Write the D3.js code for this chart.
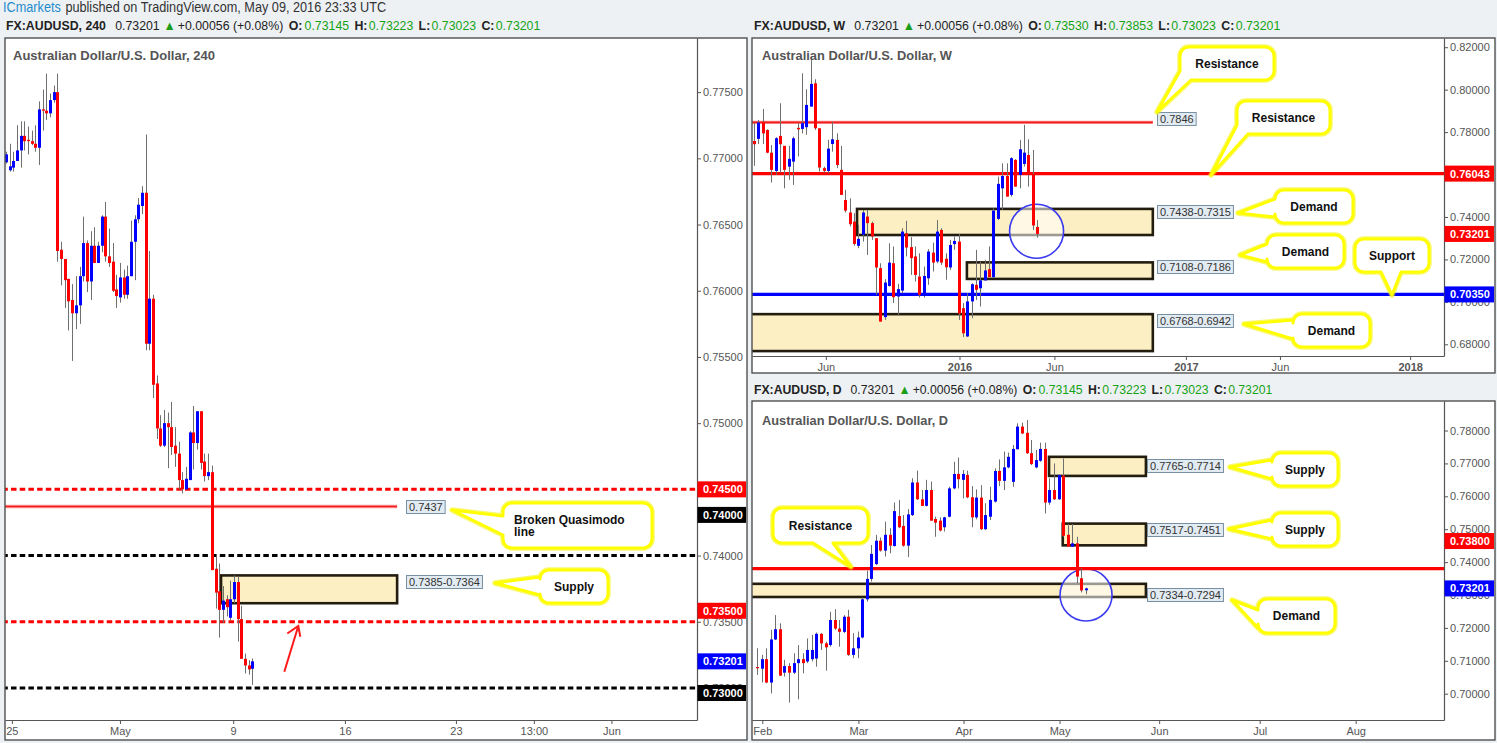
<!DOCTYPE html>
<html><head><meta charset="utf-8">
<script src="https://cdnjs.cloudflare.com/ajax/libs/d3/7.8.5/d3.min.js"></script>
<style>
html,body{margin:0;padding:0;background:#eef1f4;overflow:hidden;}
svg{display:block;}
text{font-family:"Liberation Sans",Arial,sans-serif;white-space:pre;}
</style></head><body>
<svg id="chart" width="1497" height="743"></svg>
<script>
// ================= DATA =================
// 240-minute candles (AUDUSD), Apr 25 - May 9 2016
const h4Open  = [0.7697,0.7691,0.7693,0.7698,0.7706,0.7717,0.7714,0.7713,0.7711,0.7708,0.7737,0.7736,0.7734,0.7744,0.7750,0.7631,0.7624,0.7609,0.7593,0.7583,0.7589,0.7611,0.7636,0.7607,0.7634,0.7621,0.7634,0.7656,0.7626,0.7622,0.7601,0.7595,0.7610,0.7597,0.7611,0.7637,0.7654,0.7664,0.7674,0.7560,0.7594,0.7530,0.7496,0.7483,0.7500,0.7497,0.7483,0.7477,0.7457,0.7450,0.7457,0.7493,0.7485,0.7509,0.7471,0.7460,0.7463,0.7390,0.7373,0.7359,0.7367,0.7353,0.7367,0.7380,0.7352,0.7322,0.7317,0.73145];
const h4High  = [0.7705,0.7711,0.7705,0.7725,0.7728,0.7728,0.7724,0.7721,0.7725,0.7743,0.7752,0.7764,0.7749,0.7755,0.7764,0.7637,0.7624,0.7609,0.7605,0.7611,0.7618,0.7656,0.7638,0.7645,0.7648,0.7637,0.7657,0.7667,0.7647,0.7636,0.7612,0.7621,0.7616,0.7619,0.7653,0.7657,0.7670,0.7679,0.7718,0.7630,0.7597,0.7536,0.7506,0.7510,0.7508,0.7516,0.7497,0.7486,0.7463,0.7467,0.7494,0.7513,0.7509,0.7509,0.7477,0.7477,0.7468,0.7399,0.7394,0.7377,0.7370,0.7381,0.7385,0.7384,0.7362,0.7326,0.7321,0.73223];
const h4Low   = [0.7696,0.7690,0.7690,0.7698,0.7693,0.7706,0.7703,0.7710,0.7705,0.7695,0.7721,0.7729,0.7731,0.7742,0.7622,0.7604,0.7587,0.7570,0.7547,0.7571,0.7575,0.7607,0.7599,0.7593,0.7621,0.7621,0.7629,0.7622,0.7618,0.7599,0.7587,0.7591,0.7594,0.7594,0.7611,0.7608,0.7651,0.7658,0.7555,0.7555,0.7519,0.7488,0.7482,0.7482,0.7466,0.7476,0.7467,0.7450,0.7447,0.7450,0.7457,0.7465,0.7480,0.7465,0.7456,0.7457,0.7389,0.7360,0.7338,0.7349,0.7354,0.7351,0.7364,0.7335,0.7322,0.7311,0.7310,0.73023];
const h4Close = [0.7703,0.7694,0.7698,0.7706,0.7717,0.7713,0.7713,0.7711,0.7708,0.7737,0.7736,0.7734,0.7744,0.7750,0.7630,0.7624,0.7608,0.7592,0.7583,0.7589,0.7611,0.7636,0.7607,0.7634,0.7621,0.7634,0.7656,0.7626,0.7621,0.7600,0.7596,0.7610,0.7597,0.7611,0.7637,0.7654,0.7665,0.7674,0.7560,0.7594,0.7529,0.7496,0.7483,0.7500,0.7497,0.7482,0.7477,0.7457,0.7450,0.7458,0.7493,0.7485,0.7509,0.7470,0.7460,0.7463,0.7389,0.7372,0.7359,0.7366,0.7361,0.7367,0.7380,0.7352,0.7322,0.7317,0.7314,0.73201];
const h4PriceTicks = [0.775,0.770,0.765,0.760,0.755,0.750,0.745,0.740,0.735,0.730];
const h4TimeLabels = ["25","May","9","16","23","13:00","Jun"];
const h4TimeIndex  = [1.6,31,61.8,92.2,122.4,143.6,164.7];

// Weekly candles, Feb 2015 - May 2016
const wkOpen  = [0.7758,0.7768,0.7848,0.7810,0.7703,0.7617,0.7782,0.7735,0.7637,0.7661,0.7820,0.7815,0.7823,0.7920,0.8030,0.7818,0.7630,0.7617,0.7744,0.7763,0.7622,0.7480,0.7421,0.7378,0.7264,0.7316,0.7402,0.7371,0.7300,0.7159,0.6928,0.7075,0.7182,0.7025,0.7053,0.7323,0.7258,0.7214,0.7119,0.7028,0.7111,0.7232,0.7190,0.7339,0.7203,0.7162,0.7272,0.7284,0.6970,0.6837,0.7002,0.7080,0.7064,0.7101,0.7154,0.7116,0.7391,0.7535,0.7593,0.7504,0.7669,0.7598,0.7650,0.7692,0.7601,0.7353];
const wkHigh  = [0.7842,0.7857,0.7909,0.7813,0.7739,0.7776,0.7936,0.7735,0.7735,0.7779,0.7842,0.8077,0.8002,0.8156,0.8049,0.7818,0.7637,0.7763,0.7849,0.7794,0.7735,0.7528,0.7488,0.7418,0.7363,0.7433,0.7433,0.7378,0.7300,0.7182,0.7107,0.7276,0.7261,0.7085,0.7347,0.7382,0.7305,0.7261,0.7229,0.7166,0.7248,0.7279,0.7386,0.7347,0.7229,0.7292,0.7308,0.7319,0.6994,0.7041,0.7088,0.7245,0.7190,0.7198,0.7261,0.7441,0.7590,0.7653,0.7653,0.7681,0.7672,0.7763,0.7834,0.7766,0.7716,0.73853];
const wkLow   = [0.7641,0.7744,0.7744,0.7700,0.7562,0.7598,0.7609,0.7535,0.7575,0.7551,0.7685,0.7794,0.7787,0.7920,0.7810,0.7614,0.7609,0.7606,0.7708,0.7630,0.7504,0.7421,0.7355,0.7265,0.7253,0.7284,0.7221,0.7292,0.7033,0.6907,0.6915,0.7072,0.6994,0.6939,0.7041,0.7214,0.7127,0.7096,0.7020,0.7020,0.7080,0.7143,0.7182,0.7174,0.7104,0.7151,0.7245,0.6915,0.6834,0.6834,0.6923,0.7009,0.6978,0.7101,0.7116,0.7111,0.7386,0.7433,0.7496,0.7496,0.7543,0.7535,0.7637,0.7543,0.7339,0.73023];
const wkClose = [0.7743,0.7845,0.7794,0.7703,0.7622,0.7771,0.7743,0.7622,0.7674,0.7771,0.7813,0.7842,0.7928,0.8027,0.7818,0.7633,0.7617,0.7722,0.7766,0.7645,0.7504,0.7430,0.7366,0.7273,0.7297,0.7421,0.7371,0.7308,0.7162,0.6907,0.7091,0.7185,0.7022,0.7060,0.7331,0.7256,0.7206,0.7127,0.7033,0.7122,0.7237,0.7185,0.7331,0.7185,0.7163,0.7268,0.7287,0.6944,0.6852,0.7002,0.7083,0.7057,0.7101,0.7148,0.7116,0.7430,0.7556,0.7593,0.7496,0.7677,0.7543,0.7719,0.7703,0.7598,0.7360,0.73201];
const wkPriceTicks = [0.82,0.80,0.78,0.76,0.74,0.72,0.70,0.68];
const wkTimeLabels = ["Jun","2016","Jun","2017","Jun","2018"];
const wkTimeIndex  = [16.5,47.2,69,99.2,120.8,150.7];

// Daily candles, Jan 29 - May 9 2016
const dOpen  = [0.7081,0.7076,0.7105,0.7034,0.7165,0.7196,0.7064,0.7084,0.7064,0.7093,0.7105,0.7098,0.7105,0.7107,0.7182,0.7153,0.7148,0.7224,0.7198,0.7188,0.7234,0.7118,0.7138,0.7171,0.7287,0.7349,0.7394,0.7465,0.7435,0.7483,0.7449,0.7540,0.7510,0.7450,0.7543,0.7642,0.7591,0.7571,0.7619,0.7531,0.7526,0.7506,0.7538,0.7624,0.7668,0.7650,0.7665,0.7597,0.7536,0.7596,0.7500,0.7538,0.7584,0.7677,0.7647,0.7688,0.7644,0.7743,0.7812,0.7793,0.7731,0.7688,0.7708,0.7744,0.7581,0.7619,0.7591,0.7663,0.7483,0.7447,0.7457,0.7351,0.73145];
const dHigh  = [0.7138,0.7118,0.7138,0.7194,0.7239,0.7214,0.7103,0.7093,0.7123,0.7148,0.7123,0.7168,0.7179,0.7186,0.7184,0.7158,0.7249,0.7257,0.7224,0.7239,0.7255,0.7184,0.7189,0.7292,0.7374,0.7452,0.7483,0.7475,0.7523,0.7503,0.7581,0.7589,0.7543,0.7561,0.7655,0.7678,0.7619,0.7650,0.7645,0.7538,0.7536,0.7538,0.7629,0.7705,0.7718,0.7680,0.7678,0.7631,0.7621,0.7634,0.7579,0.7629,0.7685,0.7712,0.7736,0.7733,0.7756,0.7822,0.7824,0.7832,0.7771,0.7741,0.7763,0.7763,0.7655,0.7700,0.7666,0.7715,0.7516,0.7516,0.7477,0.7381,0.73223];
const dLow   = [0.7057,0.7034,0.7032,0.7001,0.7163,0.7054,0.7052,0.6973,0.7060,0.6983,0.7062,0.7093,0.7098,0.7082,0.7133,0.7070,0.7143,0.7194,0.7143,0.7184,0.7115,0.7108,0.7108,0.7168,0.7280,0.7341,0.7391,0.7432,0.7417,0.7427,0.7447,0.7503,0.7447,0.7415,0.7540,0.7589,0.7571,0.7569,0.7526,0.7477,0.7493,0.7493,0.7536,0.7621,0.7624,0.7594,0.7594,0.7506,0.7530,0.7498,0.7498,0.7528,0.7581,0.7631,0.7619,0.7685,0.7629,0.7743,0.7789,0.7729,0.7695,0.7685,0.7705,0.7548,0.7574,0.7589,0.7589,0.7477,0.7447,0.7447,0.7336,0.7308,0.73023];
const dClose = [0.7080,0.7105,0.7034,0.7165,0.7196,0.7055,0.7084,0.7064,0.7093,0.7105,0.7093,0.7133,0.7133,0.7182,0.7153,0.7141,0.7224,0.7198,0.7188,0.7234,0.7118,0.7138,0.7171,0.7287,0.7349,0.7425,0.7465,0.7435,0.7483,0.7450,0.7555,0.7506,0.7450,0.7545,0.7642,0.7591,0.7571,0.7619,0.7526,0.7520,0.7496,0.7536,0.7624,0.7668,0.7652,0.7668,0.7597,0.7536,0.7596,0.7500,0.7543,0.7589,0.7677,0.7647,0.7688,0.7720,0.7744,0.7812,0.7791,0.7731,0.7698,0.7710,0.7744,0.7581,0.7619,0.7591,0.7665,0.7480,0.7447,0.7457,0.7356,0.7314,0.73201];
const dPriceTicks = [0.78,0.77,0.76,0.75,0.74,0.73,0.72,0.71,0.70];
const dTimeLabels = ["Feb","Mar","Apr","May","Jun","Jul","Aug"];
const dTimeIndex  = [1.16,22.2,45.2,66.2,88,110,131];

// ================= DRAWING =================
const svg = d3.select('#chart');
const fmt5 = d3.format('.5f');
const GREEN = '#15a315', DARK = '#222';

// header line: each segment is its own text element, laid out left to right and scaled to fit a target length
function header(x, y, len, segs, size) {
  const gap = 4;
  const items = segs.map(s => {
    const t = svg.append('text').attr('y', y).attr('font-size', size || 13)
      .attr('fill', s[1]).attr('font-weight', s[2] || 'normal').text(s[0]);
    return { t, w: t.node().getComputedTextLength(), sp: s[3] || 0 };
  });
  const total = d3.sum(items, d => d.w) + d3.sum(items, d => d.sp * gap);
  const k = len / total;
  let cx = x;
  items.forEach(d => {
    cx += d.sp * gap * k;
    d.t.attr('x', cx).attr('textLength', d.w * k * 0.985).attr('lengthAdjust', 'spacingAndGlyphs');
    cx += d.w * k;
  });
}
function quoteSegs(tf, o, h, l, c) {
  return [["FX:AUDUSD, " + tf, DARK, 'bold'], ["0.73201", DARK, 'normal', 2], ["\u25B2", '#1a9e1a', 'normal', 0.8], ["+0.00056 (+0.08%)", DARK, 'normal', 0.5],
    ["O:", DARK, 'bold', 1], [o, GREEN, 'normal', 0.5], ["H:", DARK, 'bold', 1.2], [h, GREEN, 'normal', 0.3], ["L:", DARK, 'bold', 1.2], [l, GREEN, 'normal', 0.3], ["C:", DARK, 'bold', 1.2], [c, GREEN, 'normal', 0.3]];
}
header(3, 12, 388, [["ICmarkets", '#1f8ccb'], ["published on TradingView.com, May 09, 2016 23:33 UTC", '#333', 'normal', 1]], 14);
header(6, 29.5, 535, quoteSegs("240", "0.73145", "0.73223", "0.73023", "0.73201"));
header(754, 29.5, 527, quoteSegs("W", "0.73530", "0.73853", "0.73023", "0.73201"));
header(754, 394, 519, quoteSegs("D", "0.73145", "0.73223", "0.73023", "0.73201"));

function makePanel(cfg) {
  const g = svg.append('g');
  g.append('rect').attr('x', cfg.bx).attr('y', cfg.by).attr('width', cfg.bw).attr('height', cfg.bh).attr('fill', '#fff');
  const x = d3.scaleLinear().domain(cfg.xDomain).range([cfg.bx, cfg.plotR]);
  const y = d3.scaleLinear().domain(cfg.yDomain).range([cfg.plotB, cfg.by]);
  const clipId = 'clip-' + cfg.id;
  svg.append('clipPath').attr('id', clipId).append('rect')
    .attr('x', cfg.bx).attr('y', cfg.by).attr('width', cfg.plotR - cfg.bx).attr('height', cfg.plotB - cfg.by);
  const plot = g.append('g').attr('clip-path', `url(#${clipId})`);
  const over = g.append('g');
  return { g, plot, over, x, y, cfg };
}

function zone(P, top, bot, i0, i1) {
  P.plot.append('rect')
    .attr('x', P.x(i0)).attr('y', P.y(top)).attr('width', P.x(i1) - P.x(i0)).attr('height', P.y(bot) - P.y(top))
    .attr('fill', '#fdefc4').attr('stroke', '#221d0e').attr('stroke-width', 2.6);
}
function hline(P, price, i0, i1, color, width, dash) {
  const l = P.plot.append('line').attr('x1', P.x(i0)).attr('x2', P.x(i1))
    .attr('y1', P.y(price)).attr('y2', P.y(price)).attr('stroke', color).attr('stroke-width', width);
  if (dash) l.attr('stroke-dasharray', dash);
  return l;
}
function thinRed(P, price, i0, i1) {
  hline(P, price, i0, i1, '#ff9a9a', 3.4);
  hline(P, price, i0, i1, '#f21d1d', 1.6);
}
function circle(P, i, price, r) {
  P.plot.append('circle').attr('cx', P.x(i)).attr('cy', P.y(price)).attr('r', r)
    .attr('fill', 'rgba(255,255,255,0.55)').attr('stroke', '#3a3af0').attr('stroke-width', 1.6);
}
function candles(P, O, H, L, C) {
  const idx = d3.range(O.length);
  const cx = i => Math.round(P.x(i));
  P.plot.selectAll('line.wick').data(idx).join('line').attr('class', 'wick')
    .attr('x1', i => cx(i) + 0.5).attr('x2', i => cx(i) + 0.5)
    .attr('y1', i => P.y(H[i])).attr('y2', i => P.y(L[i]))
    .attr('stroke', '#6f6f6f').attr('stroke-width', 1);
  P.plot.selectAll('rect.body').data(idx).join('rect').attr('class', 'body')
    .attr('x', i => cx(i) - 1).attr('width', 3)
    .attr('y', i => Math.min(P.y(O[i]), P.y(C[i])))
    .attr('height', i => Math.max(1.2, Math.abs(P.y(O[i]) - P.y(C[i]))))
    .attr('fill', i => C[i] >= O[i] ? '#0000ff' : '#ff0000');
}
function tag(P, x, price, text) {
  const g = P.over.append('g');
  const r = g.append('rect').attr('fill', '#e2ebf2').attr('stroke', '#7890a4').attr('stroke-width', 1);
  const t = g.append('text').attr('x', x + 3).attr('y', P.y(price)).attr('dy', '0.36em')
    .attr('font-size', 11).attr('fill', '#333').text(text);
  const w = t.node().getComputedTextLength();
  r.attr('x', x + 0.5).attr('y', Math.round(P.y(price)) - 6.5).attr('width', w + 5).attr('height', 13);
}
function axes(P, pTicks, tIdx, tLabels, boldYears) {
  const c = P.cfg;
  const ya = P.g.append('g').attr('transform', `translate(${c.plotR},0)`)
    .call(d3.axisRight(P.y).tickValues(pTicks).tickFormat(fmt5).tickSize(4).tickSizeOuter(0));
  const xa = P.g.append('g').attr('transform', `translate(0,${c.plotB})`)
    .call(d3.axisBottom(P.x).tickValues(tIdx).tickFormat((d, i) => tLabels[i]).tickSize(4).tickSizeOuter(0));
  [ya, xa].forEach(a => {
    a.attr('font-family', null).attr('font-size', null);
    a.select('.domain').attr('stroke', '#555').attr('stroke-width', 1.2);
    a.selectAll('.tick line').attr('stroke', '#555');
    a.selectAll('text').attr('font-size', 11).attr('fill', '#555')
      .attr('font-family', '"Liberation Sans",Arial,sans-serif');
  });
  ya.selectAll('text').attr('x', 6);
  if (boldYears) xa.selectAll('text').attr('font-weight', (d, i) => /^\d{4}$/.test(tLabels[i]) ? 'bold' : 'normal');
}
function badge(P, price, text, color) {
  const c = P.cfg;
  const yy = P.y(price);
  P.g.append('rect').attr('x', c.plotR + 0.5).attr('y', yy - 8).attr('width', c.bx + c.bw - c.plotR - 1.5).attr('height', 16)
    .attr('fill', color);
  P.g.append('text').attr('x', c.plotR + 6).attr('y', yy).attr('dy', '0.36em').attr('font-size', 11)
    .attr('font-weight', 'bold').attr('fill', '#fff').text(text);
}
function title(P, x, y, text, len) {
  P.g.append('text').attr('x', x).attr('y', y).attr('font-size', 13).attr('font-weight', 'bold')
    .attr('fill', '#555').attr('textLength', len).attr('lengthAdjust', 'spacingAndGlyphs').text(text);
}
function border(P) {
  const c = P.cfg;
  P.g.append('rect').attr('x', c.bx).attr('y', c.by).attr('width', c.bw).attr('height', c.bh)
    .attr('fill', 'none').attr('stroke', '#505050').attr('stroke-width', 1.4);
}
// callout: rounded box with a tail. side: 'left' (b1,b2 = y range), 'bottom' (b1,b2 = x range), 'corner' (bottom-left)
function callout(P, o) {
  const { x, y, w, h } = o, r = 9;
  let d = `M${x + r},${y} H${x + w - r} A${r},${r} 0 0 1 ${x + w},${y + r} V${y + h - r} A${r},${r} 0 0 1 ${x + w - r},${y + h}`;
  if (o.side === 'bottom') {
    d += ` H${o.b2} L${o.tx},${o.ty} L${o.b1},${y + h} H${x + r} A${r},${r} 0 0 1 ${x},${y + h - r} V${y + r}`;
  } else if (o.side === 'corner') {
    d += ` H${x + 11} L${o.tx},${o.ty} L${x},${y + h - 9} V${y + r}`;
  } else {
    d += ` H${x + r} A${r},${r} 0 0 1 ${x},${y + h - r} V${o.b2} L${o.tx},${o.ty} L${x},${o.b1} V${y + r}`;
  }
  d += ` A${r},${r} 0 0 1 ${x + r},${y} Z`;
  P.over.append('path').attr('d', d).attr('fill', '#fff').attr('stroke', '#f4f400').attr('stroke-width', 5.5)
    .attr('stroke-linejoin', 'round').attr('opacity', 0.55);
  P.over.append('path').attr('d', d).attr('fill', '#fff').attr('stroke', '#ffff00').attr('stroke-width', 3)
    .attr('stroke-linejoin', 'round');
  const lines = o.text.split('\n');
  lines.forEach((ln, k) => {
    const t = P.over.append('text').attr('font-family', '"DejaVu Sans",sans-serif').attr('font-weight', 'bold')
      .attr('font-size', 12).attr('fill', '#111').text(ln);
    if (o.align === 'left') t.attr('x', x + 11).attr('y', y + 21 + k * 12);
    else t.attr('x', x + w / 2).attr('y', y + h / 2).attr('dy', '0.36em').attr('text-anchor', 'middle');
  });
}

// ---------- 240 panel ----------
const L4 = makePanel({ id: 'h4', bx: 5, by: 38, bw: 742, bh: 702, plotR: 697, plotB: 720,
  xDomain: [-0.272, 187.98], yDomain: [0.72758, 0.77909] });
zone(L4, 0.7385, 0.7364, 58.5, 106.4);
hline(L4, 0.7450, -1, 200, '#ff0000', 3, '5.5,3.2');
hline(L4, 0.7400, -1, 200, '#000000', 3, '5.5,3.2');
hline(L4, 0.7350, -1, 200, '#ff0000', 3, '5.5,3.2');
hline(L4, 0.7300, -1, 200, '#000000', 3, '5.5,3.2');
thinRed(L4, 0.7437, -1, 106.4);
candles(L4, h4Open, h4High, h4Low, h4Close);
tag(L4, 406, 0.74367, "0.7437");
tag(L4, 406, 0.7380, "0.7385-0.7364");
callout(L4, { x: 503, y: 503, w: 149, h: 45, side: 'left', b1: 516, b2: 535, tx: 452, ty: 510, text: "Broken Quasimodo\nline", align: 'left' });
callout(L4, { x: 540, y: 570, w: 68, h: 33, side: 'left', b1: 577, b2: 595, tx: 495, ty: 583, text: "Supply" });
L4.over.append('path').attr('d', 'M284.3,671.7 L298.3,626 M287.3,633.5 L298.3,626 L300.3,636.8')
  .attr('fill', 'none').attr('stroke', '#ff1a1a').attr('stroke-width', 2);
title(L4, 13, 59.5, "Australian Dollar/U.S. Dollar, 240", 202);
axes(L4, h4PriceTicks, h4TimeIndex, h4TimeLabels, false);
badge(L4, 0.7450, "0.74500", '#ff0000');
badge(L4, 0.74307, "0.74000", '#000000');
badge(L4, 0.73583, "0.73500", '#ff0000');
badge(L4, 0.73201, "0.73201", '#0000ff');
badge(L4, 0.72962, "0.73000", '#000000');
border(L4);

// ---------- Weekly panel ----------
const W = makePanel({ id: 'wk', bx: 752, by: 38, bw: 743, bh: 335, plotR: 1444, plotB: 356,
  xDomain: [-0.459, 158.48], yDomain: [0.67448, 0.82434] });
zone(W, 0.7438, 0.7315, 23.66, 91.6);
zone(W, 0.7186, 0.7108, 48.9, 91.6);
zone(W, 0.6942, 0.6768, -2, 91.6);
circle(W, 64.9, 0.7333, 27);
thinRed(W, 0.7846, -2, 91.6);
hline(W, 0.76043, -2, 200, '#ff0000', 3.2);
hline(W, 0.7035, -2, 200, '#0000ff', 3.2);
candles(W, wkOpen, wkHigh, wkLow, wkClose);
tag(W, 1157, 0.78627, "0.7846");
tag(W, 1157, 0.74226, "0.7438-0.7315");
tag(W, 1157, 0.71646, "0.7108-0.7186");
tag(W, 1157, 0.69085, "0.6768-0.6942");
callout(W, { x: 1180, y: 47, w: 94, h: 33, side: 'corner', tx: 1157, ty: 112, text: "Resistance" });
callout(W, { x: 1237, y: 101, w: 93, h: 33, side: 'corner', tx: 1211, ty: 175, text: "Resistance" });
callout(W, { x: 1275, y: 190, w: 78, h: 33, side: 'left', b1: 199, b2: 217, tx: 1238, ty: 213, text: "Demand" });
callout(W, { x: 1267, y: 235, w: 77, h: 33, side: 'left', b1: 244, b2: 262, tx: 1240, ty: 255, text: "Demand" });
callout(W, { x: 1355, y: 239, w: 74, h: 33, side: 'bottom', b1: 1381, b2: 1401, tx: 1392, ty: 295, text: "Support" });
callout(W, { x: 1293, y: 314, w: 77, h: 33, side: 'left', b1: 320, b2: 339, tx: 1244, ty: 324, text: "Demand" });
title(W, 762, 59.5, "Australian Dollar/U.S. Dollar, W", 190);
axes(W, wkPriceTicks, wkTimeIndex, wkTimeLabels, true);
badge(W, 0.76043, "0.76043", '#ff0000');
badge(W, 0.73201, "0.73201", '#ff0000');
badge(W, 0.7035, "0.70350", '#0000ff');
border(W);

// ---------- Daily panel ----------
const D = makePanel({ id: 'd', bx: 752, by: 401, bw: 743, bh: 339, plotR: 1444, plotB: 720,
  xDomain: [-1.094, 150.33], yDomain: [0.69201, 0.78897] });
zone(D, 0.7720, 0.7662, 63.9, 85.1);
zone(D, 0.7517, 0.7451, 66.9, 85.1);
zone(D, 0.7334, 0.7294, -2, 85.1);
circle(D, 72, 0.7300, 26);
hline(D, 0.7380, -2, 200, '#ff0000', 3.2);
candles(D, dOpen, dHigh, dLow, dClose);
tag(D, 1147, 0.76921, "0.7765-0.7714");
tag(D, 1147, 0.74985, "0.7517-0.7451");
tag(D, 1147, 0.7300, "0.7334-0.7294");
callout(D, { x: 1272, y: 453, w: 66, h: 33, side: 'left', b1: 460, b2: 479, tx: 1230, ty: 467, text: "Supply" });
callout(D, { x: 1272, y: 513, w: 66, h: 33, side: 'left', b1: 520, b2: 539, tx: 1229, ty: 529, text: "Supply" });
callout(D, { x: 1258, y: 599, w: 77, h: 34, side: 'left', b1: 610, b2: 628, tx: 1232, ty: 600, text: "Demand" });
callout(D, { x: 773, y: 508, w: 95, h: 35, side: 'bottom', b1: 813, b2: 833, tx: 851, ty: 567, text: "Resistance" });
title(D, 762, 424.5, "Australian Dollar/U.S. Dollar, D", 186);
axes(D, dPriceTicks, dTimeIndex, dTimeLabels, false);
badge(D, 0.74641, "0.73800", '#ff0000');
badge(D, 0.73201, "0.73201", '#0000ff');
border(D);
</script>
</body></html>
